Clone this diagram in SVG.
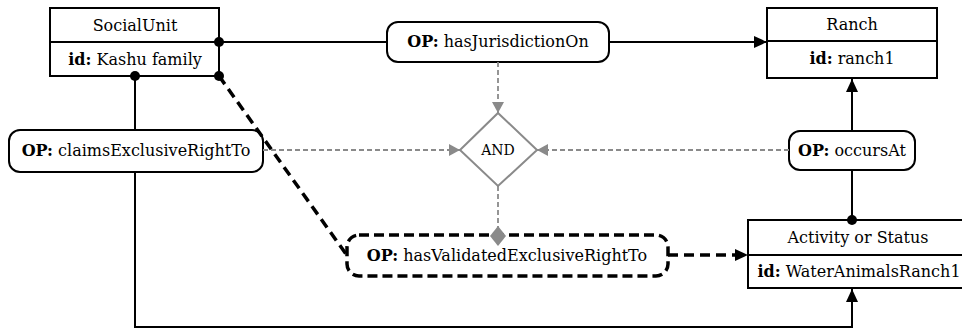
<svg xmlns="http://www.w3.org/2000/svg" width="962" height="331" viewBox="0 0 962 331">
<style>
text{font-family:"DejaVu Serif","Liberation Serif",serif;font-size:16px;fill:#000;text-anchor:middle}
.b{font-weight:bold}
.box{fill:#fff;stroke:#000;stroke-width:2}
.op{fill:#fff;stroke:#000;stroke-width:2}
.opd{fill:#fff;stroke:#000;stroke-width:3.5;stroke-dasharray:10,5}
.ln{fill:none;stroke:#000;stroke-width:2}
.dl{fill:none;stroke:#000;stroke-width:3.5;stroke-dasharray:10,6}
.gl{fill:none;stroke:#8a8a8a;stroke-width:1.8;stroke-dasharray:5,3}
.dot{fill:#000}
</style>
<defs>
<marker id="ab" markerUnits="userSpaceOnUse" markerWidth="14" markerHeight="12" refX="13" refY="6" orient="auto"><path d="M0,0 L13,6 L0,12 Z" fill="#000"/></marker>
<marker id="ag" markerUnits="userSpaceOnUse" markerWidth="12" markerHeight="12" refX="11" refY="6" orient="auto"><path d="M0,0 L11,6 L0,12 Z" fill="#8a8a8a"/></marker>
<marker id="dg" markerUnits="userSpaceOnUse" markerWidth="20" markerHeight="16" refX="10" refY="8" orient="auto"><path d="M0,8 L10,0 L20,8 L10,16 Z" fill="#8a8a8a"/></marker>
</defs>
<g id="SocialUnit">
<rect class="box" x="50" y="8" width="169" height="68"/>
<line class="ln" x1="50" y1="42" x2="219" y2="42"/>
<text x="135" y="31">SocialUnit</text>
<text x="135" y="65"><tspan class="b">id:</tspan> Kashu family</text>
</g>
<g id="Ranch">
<rect class="box" x="767" y="8" width="170" height="70"/>
<line class="ln" x1="767" y1="41" x2="937" y2="41"/>
<text x="852" y="30">Ranch</text>
<text x="852" y="64"><tspan class="b">id:</tspan> ranch1</text>
</g>
<g id="hasJurisdictionOn">
<rect class="op" x="387" y="22" width="222" height="40" rx="11"/>
<text x="498" y="47"><tspan class="b">OP:</tspan> hasJurisdictionOn</text>
</g>
<g id="claimsExclusiveRightTo">
<rect class="op" x="9" y="130" width="254" height="42" rx="11"/>
<text x="136" y="156"><tspan class="b">OP:</tspan> claimsExclusiveRightTo</text>
</g>
<g id="AND">
<path d="M498,113 L537,150 L498,186 L460,150 Z" fill="#fff" stroke="#8a8a8a" stroke-width="2"/>
<text x="498" y="155" style="font-size:14px">AND</text>
</g>
<g id="occursAt">
<rect class="op" x="789" y="131" width="126" height="39" rx="11"/>
<text x="852" y="156"><tspan class="b">OP:</tspan> occursAt</text>
</g>
<g id="hasValidatedExclusiveRightTo">
<rect class="opd" x="347" y="235" width="321" height="41" rx="12"/>
<text x="507" y="261"><tspan class="b">OP:</tspan> hasValidatedExclusiveRightTo</text>
</g>
<g id="ActivityOrStatus">
<rect class="box" x="748" y="220" width="220" height="68"/>
<line class="ln" x1="748" y1="255" x2="968" y2="255"/>
<text x="858" y="243">Activity or Status</text>
<text x="859" y="277"><tspan class="b">id:</tspan> WaterAnimalsRanch1</text>
</g>
<g id="connectors">
<path class="ln" d="M219,42 H387"/>
<path class="ln" d="M609,42 H767" marker-end="url(#ab)"/>
<path class="ln" d="M135,76 V130"/>
<path class="ln" d="M135,172 V327 H852 V289" marker-end="url(#ab)"/>
<path class="ln" d="M852,220 V170"/>
<path class="ln" d="M852,131 V79" marker-end="url(#ab)"/>
<path class="dl" d="M219,76 L346,254"/>
<path class="dl" d="M668,255 H748" marker-end="url(#ab)"/>
<path class="gl" d="M498,62 V113" marker-end="url(#ag)"/>
<path class="gl" d="M263,150 H460" marker-end="url(#ag)"/>
<path class="gl" d="M789,150 H537" marker-end="url(#ag)"/>
<path class="gl" d="M498,186 V236" marker-end="url(#dg)"/>
<circle class="dot" cx="219" cy="42" r="5"/>
<circle class="dot" cx="219" cy="76" r="5"/>
<circle class="dot" cx="135" cy="76" r="5"/>
<circle class="dot" cx="852" cy="220" r="5"/>
</g>
</svg>
